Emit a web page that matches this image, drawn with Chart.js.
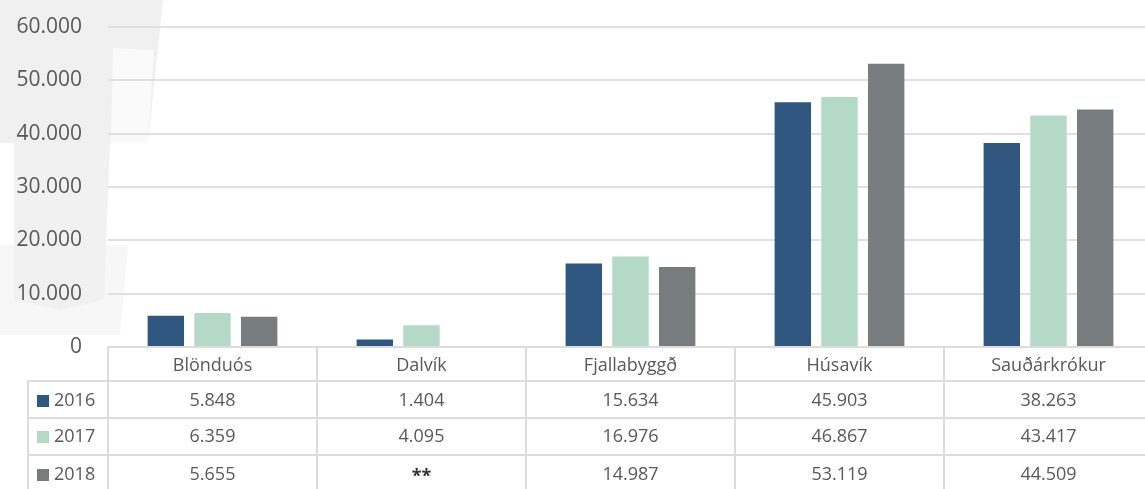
<!DOCTYPE html>
<html>
<head>
<meta charset="utf-8">
<script src="https://cdn.jsdelivr.net/npm/chart.js@4/dist/chart.umd.min.js"></script>
<style>
html,body{margin:0;padding:0;background:#fff;overflow:hidden;width:1145px;height:489px;}
#wrap{position:relative;width:1153px;height:489px;}
</style>
</head>
<body>
<div id="wrap"><canvas id="c" width="1153" height="489"></canvas></div>
<script>
const categories = ['Blönduós', 'Dalvík', 'Fjallabyggð', 'Húsavík', 'Sauðárkrókur'];
const seriesNames = ['2016', '2017', '2018'];
const values2016 = [5848, 1404, 15634, 45903, 38263];
const values2017 = [6359, 4095, 16976, 46867, 43417];
const values2018 = [5655, null, 14987, 53119, 44509];
const yTicks = [0, 10000, 20000, 30000, 40000, 50000, 60000];
const colors = ['#305780', '#b4dac7', '#777c7f'];

const allValues = [values2016, values2017, values2018];
const fmt = v => v === null ? '**' : v.toString().replace(/\B(?=(\d{3})+(?!\d))/g, '.');

const TEXT = '#595959';
const LINE = '#dcdcdc';
const FONT = '"Open Sans", sans-serif';

const bgPlugin = {
  id: 'bg',
  beforeDraw(chart) {
    const ctx = chart.ctx;
    ctx.save();
    // faint background watermark
    ctx.fillStyle = '#f7f7f7';
    ctx.beginPath();
    ctx.moveTo(0, 245); ctx.lineTo(128, 245); ctx.lineTo(120, 335); ctx.lineTo(0, 335); ctx.closePath();
    ctx.fill();
    ctx.fillStyle = '#f0f0f0';
    ctx.beginPath();
    ctx.moveTo(0, 0); ctx.lineTo(163, 0); ctx.lineTo(148, 143); ctx.lineTo(0, 143); ctx.closePath();
    ctx.fill();
    ctx.fillStyle = '#fafafa';
    ctx.beginPath();
    ctx.moveTo(113, 48); ctx.lineTo(154, 50); ctx.lineTo(148, 143); ctx.lineTo(111, 143); ctx.closePath();
    ctx.fill();
    ctx.fillStyle = '#f1f1f1';
    ctx.beginPath();
    ctx.moveTo(14, 143); ctx.lineTo(110, 143); ctx.lineTo(104, 300); ctx.lineTo(60, 310); ctx.lineTo(14, 300); ctx.closePath();
    ctx.fill();
    ctx.restore();
  }
};

const tablePlugin = {
  id: 'dataTable',
  afterDraw(chart) {
    const ctx = chart.ctx;
    const xs = chart.scales.x;
    const area = chart.chartArea;
    const colW = (xs.getPixelForValue(1) - xs.getPixelForValue(0));
    const top = area.bottom;
    const rowLines = [top, 381, 418, 455, 489];
    const textY = [366, 401, 437, 475];
    const legendLeft = 28;
    const right = xs.getPixelForValue(categories.length - 1) + colW / 2;
    ctx.save();
    ctx.strokeStyle = LINE;
    ctx.lineWidth = 2;
    ctx.beginPath();
    ctx.moveTo(area.left, top); ctx.lineTo(right, top);
    for (let r = 1; r < 4; r++) { ctx.moveTo(legendLeft, rowLines[r]); ctx.lineTo(right, rowLines[r]); }
    ctx.moveTo(legendLeft, rowLines[1]); ctx.lineTo(legendLeft, 489);
    for (let i = 0; i <= categories.length; i++) {
      const x = xs.getPixelForValue(0) - colW / 2 + i * colW;
      ctx.moveTo(x, top); ctx.lineTo(x, 489);
    }
    ctx.stroke();

    ctx.fillStyle = TEXT;
    ctx.font = '18px ' + FONT;
    ctx.textAlign = 'center';
    ctx.textBaseline = 'middle';
    categories.forEach((c, i) => ctx.fillText(c, xs.getPixelForValue(i), textY[0]));
    allValues.forEach((arr, s) => {
      arr.forEach((v, i) => {
        if (v === null) {
          ctx.save();
          ctx.font = 'bold 18px ' + FONT;
          ctx.fillStyle = '#333';
          ctx.fillText(fmt(v), xs.getPixelForValue(i), textY[s + 1] + 2);
          ctx.restore();
        } else {
          ctx.fillText(fmt(v), xs.getPixelForValue(i), textY[s + 1]);
        }
      });
      ctx.fillStyle = colors[s];
      ctx.fillRect(37, textY[s + 1] - 6, 12, 12);
      ctx.fillStyle = TEXT;
      ctx.textAlign = 'left';
      ctx.fillText(seriesNames[s], 54, textY[s + 1]);
      ctx.textAlign = 'center';
    });
    ctx.restore();
  }
};

new Chart(document.getElementById('c'), {
  type: 'bar',
  data: {
    labels: categories,
    datasets: seriesNames.map((n, s) => ({
      label: n,
      data: allValues[s],
      backgroundColor: colors[s],
      borderWidth: 0,
      categoryPercentage: 0.67,
      barPercentage: 0.78
    }))
  },
  options: {
    responsive: false,
    devicePixelRatio: 1,
    animation: false,
    layout: { padding: { top: 27, bottom: 142, left: 0, right: 0 } },
    plugins: { legend: { display: false }, tooltip: { enabled: false } },
    scales: {
      x: { display: false },
      y: {
        min: 0, max: 60000,
        afterFit(scale) { scale.width = 108; },
        afterBuildTicks(scale) { scale.ticks = yTicks.map(v => ({ value: v })); },
        ticks: {
          padding: 0,
          color: TEXT,
          font: { family: FONT, size: 21 },
          callback: v => fmt(v)
        },
        grid: { color: '#e0e0e0', lineWidth: 2, drawTicks: true, tickLength: 26, tickColor: 'rgba(0,0,0,0)' },
        border: { display: false }
      }
    }
  },
  plugins: [bgPlugin, tablePlugin]
});
</script>
</body>
</html>
